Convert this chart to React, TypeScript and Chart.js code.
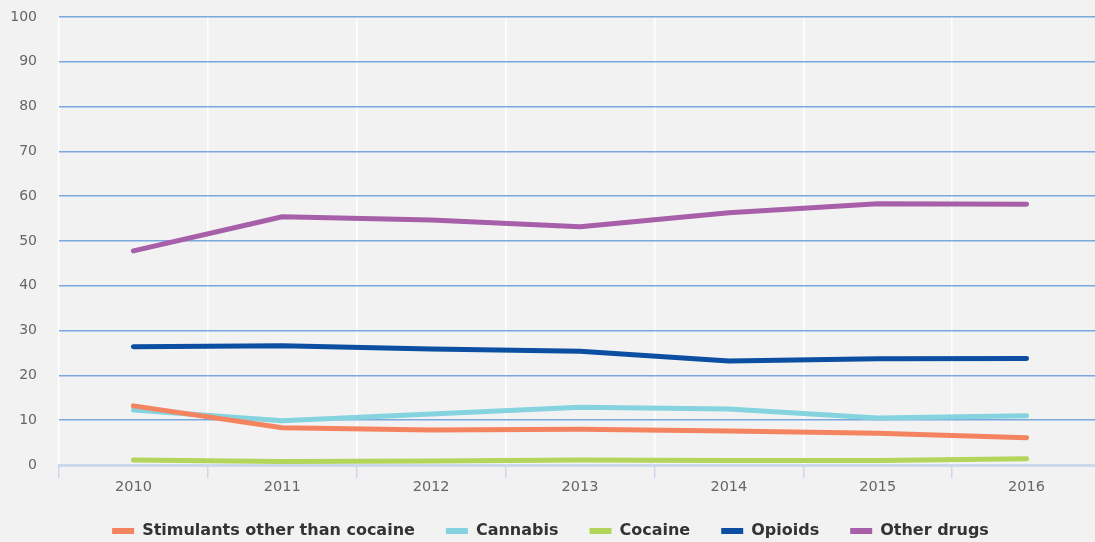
import React, { useEffect, useRef } from "react";
import { Chart, registerables } from "chart.js";

Chart.register(...registerables);

// Years on the x axis
const years = ["2010", "2011", "2012", "2013", "2014", "2015", "2016"];

// Share by drug type, per year
const stimulants = [13.2, 8.3, 7.8, 8.0, 7.6, 7.1, 6.1];
const cannabis = [12.3, 9.9, 11.4, 12.9, 12.5, 10.5, 11.0];
const cocaine = [1.1, 0.8, 0.9, 1.1, 1.0, 1.0, 1.4];
const opioids = [26.4, 26.6, 25.9, 25.4, 23.2, 23.7, 23.8];
const otherDrugs = [47.8, 55.4, 54.7, 53.2, 56.3, 58.3, 58.2];

const seriesNames = ["Stimulants other than cocaine", "Cannabis", "Cocaine", "Opioids", "Other drugs"];
const seriesColors = ["#f4845f", "#86d3e0", "#b2d55a", "#0b4ea2", "#a65fa8"];

const FONT = "'DejaVu Sans', Verdana, sans-serif";

// The plot runs a few pixels past the right edge of the visible frame
const FRAME_W = 1095;
const FRAME_H = 542;
const CANVAS_W = 1101;

export default function App() {
  const canvasRef = useRef<HTMLCanvasElement | null>(null);

  useEffect(() => {
    document.body.style.margin = "0";
    document.body.style.background = "#f2f2f2";
    const canvas = canvasRef.current;
    if (!canvas) return;

    const values = [stimulants, cannabis, cocaine, opioids, otherDrugs];
    const datasets = values.map((data, i) => ({
      label: seriesNames[i],
      data,
      borderColor: seriesColors[i],
      backgroundColor: seriesColors[i],
      borderWidth: 5,
      borderCapStyle: "round" as const,
      borderJoinStyle: "round" as const,
      pointRadius: 0,
      pointHoverRadius: 0,
      tension: 0,
      fill: false,
    }));

    const chart = new Chart(canvas, {
      type: "line",
      data: { labels: years, datasets },
      options: {
        responsive: false,
        animation: false,
        layout: { padding: { top: 17, left: 0, right: 0, bottom: -7 } },
        plugins: {
          tooltip: { enabled: false },
          legend: {
            position: "bottom",
            labels: {
              boxWidth: 22,
              boxHeight: 6,
              padding: 31,
              color: "#333333",
              font: { family: FONT, size: 16, weight: "bold" },
              generateLabels: (c: Chart) =>
                Chart.defaults.plugins.legend.labels
                  .generateLabels(c)
                  .map((l: any) => ({ ...l, lineWidth: 0 })),
            },
          },
        },
        scales: {
          x: {
            offset: true,
            afterFit: (scale: any) => {
              scale.height = 27;
            },
            grid: {
              offset: true,
              color: "#ffffff",
              lineWidth: 1.5,
              tickColor: "#cdd8ec",
              tickLength: 13,
              tickWidth: 1.5,
            },
            border: { display: true, color: "#cdd8ec", width: 3 },
            ticks: {
              color: "#666666",
              padding: 1,
              font: { family: FONT, size: 14.5 },
            },
          },
          y: {
            min: 0,
            max: 100,
            afterFit: (scale: any) => {
              scale.width = 59;
              // keep the label gap from pushing the plot top down
              scale.paddingTop = 8;
              scale.paddingBottom = 8;
            },
            grid: {
              drawTicks: false,
              lineWidth: 1.5,
              color: (ctx: any) => (ctx.tick && ctx.tick.value === 0 ? "rgba(0,0,0,0)" : "#79a8de"),
            },
            border: { display: false },
            ticks: {
              stepSize: 10,
              padding: 22,
              color: "#666666",
              font: { family: FONT, size: 14 },
            },
          },
        },
      },
    });

    return () => chart.destroy();
  }, []);

  return (
    <div style={{ width: FRAME_W, height: FRAME_H, background: "#f2f2f2", overflow: "hidden" }}>
      <canvas ref={canvasRef} width={CANVAS_W} height={FRAME_H} style={{ display: "block" }} />
    </div>
  );
}
